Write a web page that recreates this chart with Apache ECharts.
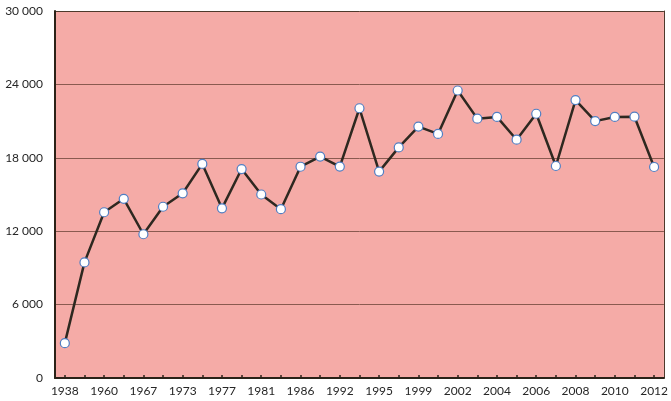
<!DOCTYPE html>
<html>
<head>
<meta charset="utf-8">
<script src="https://cdn.jsdelivr.net/npm/echarts@6/dist/echarts.min.js"></script>
<style>
  html, body { margin: 0; padding: 0; background: #fff; }
  #chart { width: 671px; height: 401px; }
</style>
</head>
<body>
<div id="chart"></div>
<script>
// years on the x axis (only every other one is labelled in the picture)
const years = ['1938', '1950', '1960', '1965', '1967', '1970', '1973', '1975', '1977', '1979',
  '1981', '1984', '1986', '1989', '1992', '1993', '1995', '1997', '1999', '2000',
  '2002', '2003', '2004', '2005', '2006', '2007', '2008', '2009', '2010', '2011', '2012'];
const values = [2850, 9450, 13550, 14650, 11750, 14000, 15100, 17500, 13870, 17080,
  15000, 13800, 17270, 18100, 17280, 22050, 16870, 18850, 20550, 19950,
  23500, 21200, 21340, 19480, 21600, 17330, 22720, 21000, 21340, 21360, 17250];
const yTicks = [0, 6000, 12000, 18000, 24000, 30000];

const chart = echarts.init(document.getElementById('chart'));
const labelFont = { fontFamily: 'Lato', fontSize: 12, color: '#262626' };

// grid lines are brown, the top one doubles as the frame and is darker
const gridColors = yTicks.map((t, i) => i === yTicks.length - 1 ? '#4e3a2c' : '#8a5a50');

chart.setOption({
  animation: false,
  grid: {
    left: 55, right: 6, top: 11, bottom: 23,
    show: true, backgroundColor: '#f5aba7', borderWidth: 0
  },
  xAxis: {
    type: 'category',
    data: years,
    boundaryGap: true,
    axisLine: { lineStyle: { color: '#2b2218', width: 2 } },
    axisTick: { show: true, inside: true, length: 3, alignWithLabel: true, interval: 0,
      lineStyle: { color: '#2b2218', width: 1.5 } },
    axisLabel: Object.assign({ interval: 1, margin: 7 }, labelFont)
  },
  yAxis: [
    {
      type: 'value',
      min: yTicks[0],
      max: yTicks[yTicks.length - 1],
      interval: yTicks[1] - yTicks[0],
      axisLine: { show: true, lineStyle: { color: '#2b2218', width: 2 } },
      axisTick: { show: false },
      splitLine: { lineStyle: { color: gridColors, width: 1 } },
      axisLabel: Object.assign({
        margin: 12,
        formatter: v => String(v).replace(/\B(?=(\d{3})+(?!\d))/g, ' ')
      }, labelFont)
    },
    {
      // right-hand frame line only
      type: 'value',
      position: 'right',
      min: 0, max: 30000,
      axisLine: { show: true, lineStyle: { color: '#4e3a2c', width: 1 } },
      axisTick: { show: false },
      axisLabel: { show: false },
      splitLine: { show: false }
    }
  ],
  series: [{
    type: 'line',
    data: values,
    symbol: 'circle',
    symbolSize: 9,
    lineStyle: { color: '#2e2820', width: 2.5 },
    itemStyle: { color: '#ffffff', borderColor: '#4f7fc4', borderWidth: 1.2 }
  }]
});
</script>
</body>
</html>
